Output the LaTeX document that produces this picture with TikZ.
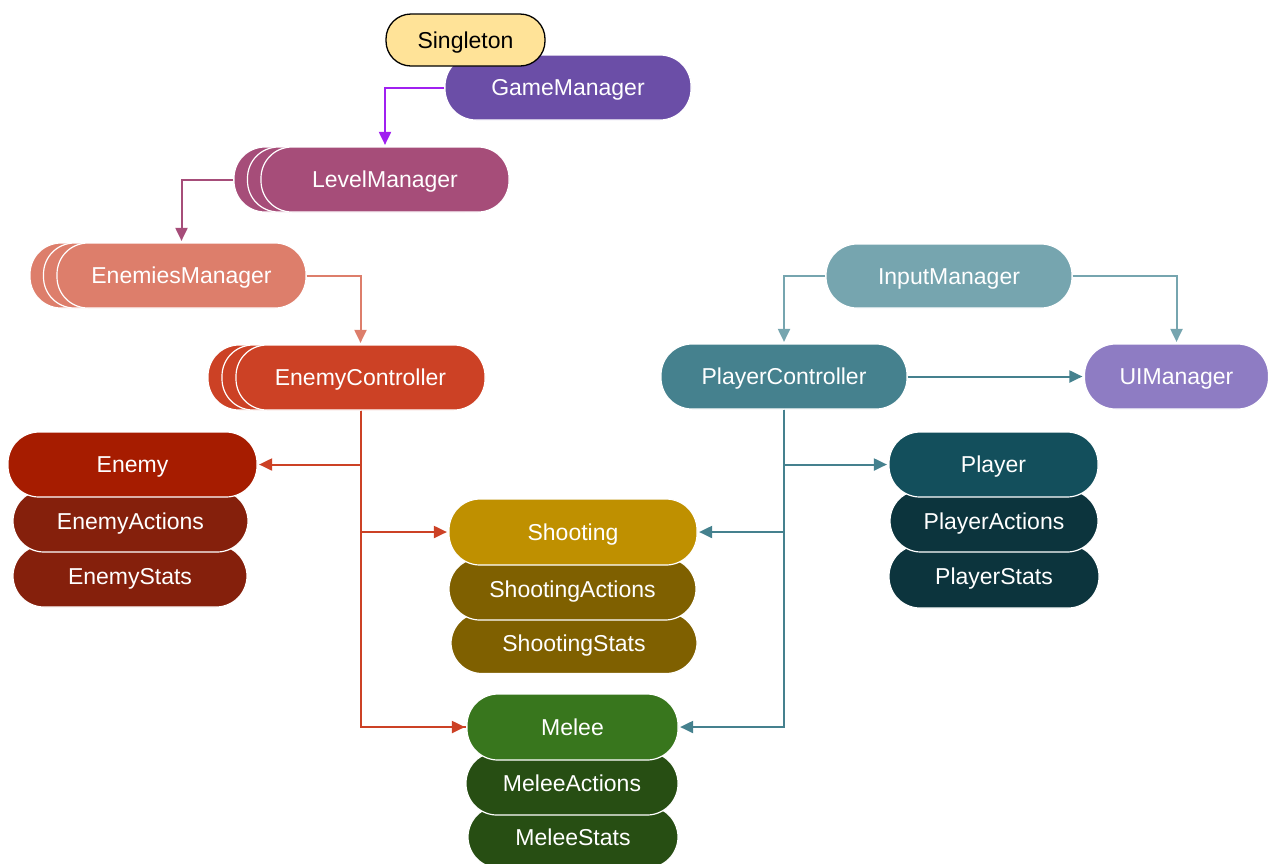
\documentclass[tikz,border=0pt]{standalone}
\usepackage{fontspec}
\setmainfont{Liberation Sans}
\usetikzlibrary{arrows.meta}
\definecolor{singC}{HTML}{FFE398}
\definecolor{gmC}{HTML}{6B4EA7}
\definecolor{gmArrow}{HTML}{A020F0}
\definecolor{lmC}{HTML}{A64D79}
\definecolor{emC}{HTML}{DD7E6B}
\definecolor{ecC}{HTML}{CC4125}
\definecolor{enC}{HTML}{A61C00}
\definecolor{enD}{HTML}{85200C}
\definecolor{shC}{HTML}{BF9000}
\definecolor{shD}{HTML}{7F6000}
\definecolor{meC}{HTML}{38761D}
\definecolor{meD}{HTML}{274E13}
\definecolor{imC}{HTML}{76A5AF}
\definecolor{pcC}{HTML}{45818E}
\definecolor{uiC}{HTML}{8E7CC3}
\definecolor{plC}{HTML}{134F5C}
\definecolor{plD}{HTML}{0C343D}
\tikzset{
  pill/.style={draw=white, line width=1.2pt, rounded corners=31pt, minimum height=64pt,
    inner sep=0pt, text height=16.5pt, text depth=0pt, text=white,
    font=\fontsize{23}{27}\selectfont},
  singbox/.style={draw=black, line width=1.3pt, fill=singC, rounded corners=25pt,
    minimum height=52pt, minimum width=159pt, inner sep=0pt, text height=16.5pt,
    text depth=0pt, text=black, font=\fontsize{23}{27}\selectfont},
  conn/.style={line width=2pt, shorten >=1.5pt, -{Triangle[width=12pt,length=13pt]}},
  branch/.style={line width=2pt},
}
\begin{document}
\begin{tikzpicture}[x=1pt, y=-1pt]
\useasboundingbox (0,0) rectangle (1268,863);
\clip (0,0) rectangle (1268,863);

% top
\node[pill, fill=gmC, minimum width=246pt, minimum height=65pt] (gm) at (568,87.5) {GameManager};
\node[singbox] (single) at (465.5,40) {Singleton};

% LevelManager stack
\node[pill, fill=lmC, minimum width=248pt, minimum height=65pt] (lm3) at (358,179.5) {};
\node[pill, fill=lmC, minimum width=248pt, minimum height=65pt] (lm2) at (371.5,179.5) {};
\node[pill, fill=lmC, minimum width=248pt, minimum height=65pt] (lm) at (385,179.5) {LevelManager};

% EnemiesManager stack
\node[pill, fill=emC, minimum width=249pt, minimum height=65pt] (em3) at (154.5,275.5) {};
\node[pill, fill=emC, minimum width=249pt, minimum height=65pt] (em2) at (168,275.5) {};
\node[pill, fill=emC, minimum width=249pt, minimum height=65pt] (em) at (181.5,275.5) {EnemiesManager};

% EnemyController stack
\node[pill, fill=ecC, minimum width=249pt, minimum height=65pt] (ec3) at (332.5,377.5) {};
\node[pill, fill=ecC, minimum width=249pt, minimum height=65pt] (ec2) at (346.5,377.5) {};
\node[pill, fill=ecC, minimum width=249pt, minimum height=65pt] (ec) at (360.5,377.5) {EnemyController};

% Enemy stack
\node[pill, fill=enD, minimum width=234pt, minimum height=62pt] (enstats) at (130,576) {EnemyStats};
\node[pill, fill=enD, minimum width=235pt, minimum height=62pt] (enact) at (130.5,521) {EnemyActions};
\node[pill, fill=enC, minimum width=249pt, minimum height=65pt] (enemy) at (132.5,464.5) {Enemy};

% Shooting stack
\node[pill, fill=shD, minimum width=246pt, minimum height=61pt] (shstats) at (574,643) {ShootingStats};
\node[pill, fill=shD, minimum width=247pt, minimum height=62pt] (shact) at (572.5,589) {ShootingActions};
\node[pill, fill=shC, minimum width=248pt, minimum height=66pt] (shoot) at (573,532) {Shooting};

% Melee stack
\node[pill, fill=meD, minimum width=210pt, minimum height=62pt] (mestats) at (573,837) {MeleeStats};
\node[pill, fill=meD, minimum width=212pt, minimum height=63pt] (meact) at (572,783.5) {MeleeActions};
\node[pill, fill=meC, minimum width=211pt, minimum height=66pt] (melee) at (572.5,727) {Melee};

% Player side
\node[pill, fill=imC, minimum width=246pt, minimum height=64pt] (im) at (949,276) {InputManager};
\node[pill, fill=pcC, minimum width=246pt, minimum height=65pt] (pc) at (784,376.5) {PlayerController};
\node[pill, fill=uiC, minimum width=184pt, minimum height=65pt] (ui) at (1176.5,376.5) {UIManager};

% Player stack
\node[pill, fill=plD, minimum width=210pt, minimum height=63pt] (plstats) at (994,576.5) {PlayerStats};
\node[pill, fill=plD, minimum width=208pt, minimum height=62pt] (plact) at (994,521) {PlayerActions};
\node[pill, fill=plC, minimum width=209pt, minimum height=65pt] (player) at (993.5,464.5) {Player};

% connectors
\draw[conn, gmArrow] (gm.west) -| (lm.north);
\draw[conn, lmC] (lm3.west) -| (em.north);
\draw[conn, emC] (em.east) -| (ec.north);

\draw[branch, ecC] (ec.south) |- (melee.west);
\draw[conn, ecC] (ec.south) |- (enemy.east);
\draw[conn, ecC] (ec.south) |- (shoot.west);
\draw[conn, ecC] (ec.south) |- (melee.west);

\draw[conn, imC] (im.west) -| (pc.north);
\draw[conn, imC] (im.east) -| (ui.north);
\draw[conn, pcC] (pc.east) -- (ui.west);

\draw[conn, pcC] (pc.south) |- (player.west);
\draw[conn, pcC] (pc.south) |- (shoot.east);
\draw[conn, pcC] (pc.south) |- (melee.east);
\end{tikzpicture}
\end{document}
